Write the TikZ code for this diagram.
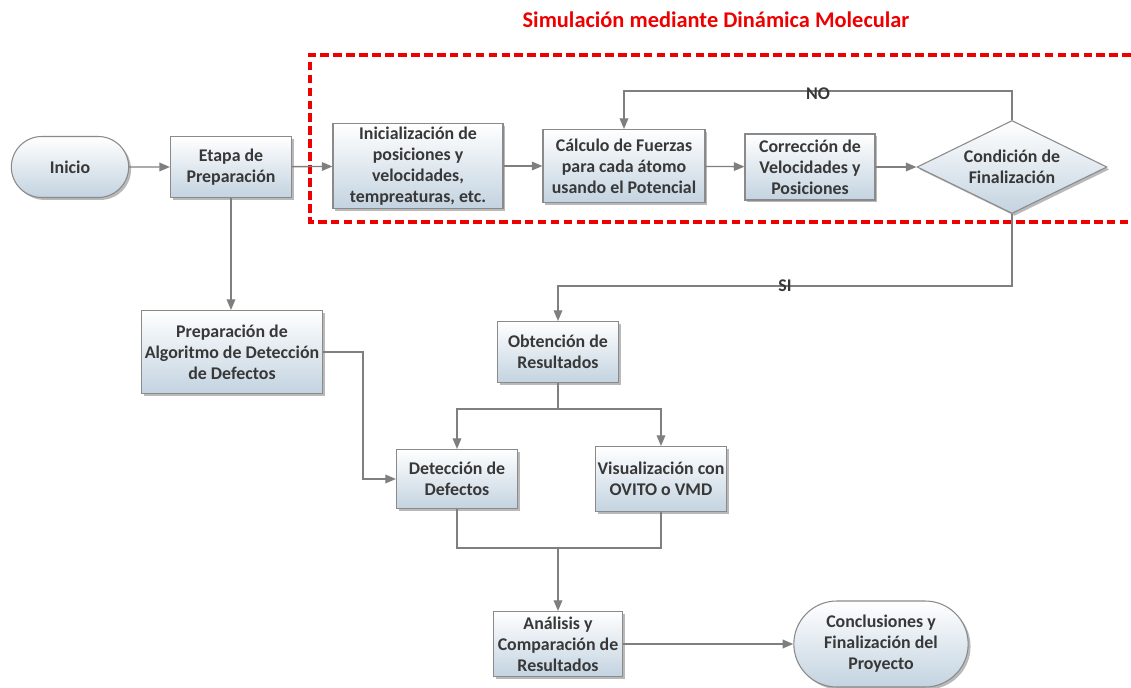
\documentclass[tikz,border=0pt]{standalone}
\usepackage{fontspec}
\setmainfont{Carlito}
\usepackage{xcolor}
\usetikzlibrary{shapes.geometric,shapes.misc,shadows,arrows.meta}

\definecolor{lineagris}{HTML}{7F7F7F}
\definecolor{bordegris}{HTML}{8A8A8A}
\definecolor{azulcaja}{HTML}{C3D3E0}
\definecolor{textogris}{HTML}{383838}
\definecolor{rojosim}{HTML}{EE0000}

\tikzset{
  caja/.style={draw=bordegris, line width=0.8pt, top color=white, bottom color=azulcaja,
    drop shadow={shadow xshift=1.8pt, shadow yshift=-1.8pt, fill=black!50, opacity=.55},
    font=\bfseries\fontsize{13.4}{15.8}\selectfont, text=textogris, align=center, inner sep=1pt},
  terminal/.style={caja, rounded rectangle},
  decision/.style={caja, diamond, aspect=2, inner sep=0pt},
  flecha/.style={draw=lineagris, line width=1pt, -{Triangle[length=8pt,width=6.5pt]}},
  linea/.style={draw=lineagris, line width=1pt},
  etiqueta/.style={font=\bfseries\fontsize{13.4}{15.8}\selectfont, text=textogris, inner sep=0pt}
}

\begin{document}
\begin{tikzpicture}[x=0.75pt, y=-0.75pt]
        \useasboundingbox (0,0) rectangle (1131,688);

        \node[font=\bfseries\fontsize{16.8}{19}\selectfont, text=rojosim] (titulo) at (716,20) {Simulación mediante Dinámica Molecular};
        \draw[rojosim, line width=2.3pt, dash pattern=on 6.5pt off 3.2pt] (1131,55) -- (310,55) -- (310,222) -- (1131,222);

        \node[terminal, minimum width=90pt, minimum height=45.75pt] (inicio) at (70,167) {Inicio};
        \node[caja, minimum width=90.75pt, minimum height=45.75pt] (etapa) at (231,167) {Etapa de\\Preparación};
        \node[caja, minimum width=127.5pt, minimum height=63.75pt] (inic) at (418,166) {Inicialización de\\posiciones y\\velocidades,\\tempreaturas, etc.};
        \node[caja, minimum width=121.5pt, minimum height=54.75pt] (calc) at (624,166) {Cálculo de Fuerzas\\para cada átomo\\usando el Potencial};
        \node[caja, minimum width=97.5pt, minimum height=49.5pt] (corr) at (810,167) {Corrección de\\Velocidades y\\Posiciones};
        \node[decision, minimum width=142.5pt, minimum height=69.75pt] (cond) at (1012,167) {Condición de\\Finalización};

        \node[caja, minimum width=135.75pt, minimum height=62.25pt] (prep) at (232,352) {Preparación de\\Algoritmo de Detección\\de Defectos};
        \node[caja, minimum width=90.75pt, minimum height=45.75pt] (obt) at (558,352) {Obtención de\\Resultados};
        \node[caja, minimum width=90.75pt, minimum height=44.25pt] (det) at (457,479) {Detección de\\Defectos};
        \node[caja, minimum width=98.25pt, minimum height=48.75pt] (vis) at (661,479) {Visualización con\\OVITO o VMD};
        \node[caja, minimum width=96.75pt, minimum height=48.75pt] (ana) at (558,644) {Análisis y\\Comparación de\\Resultados};
        \node[terminal, minimum width=132.75pt, minimum height=64.5pt] (concl) at (881,644) {Conclusiones y\\Finalización del\\Proyecto};

        \coordinate (bifur) at (558,409);
        \coordinate (union) at (558,548);

        \draw[flecha] (inicio) -- (etapa);
        \draw[flecha] (etapa) -- (inic);
        \draw[flecha] (inic) -- (calc);
        \draw[flecha] (calc) -- (corr);
        \draw[flecha] (corr) -- (cond.west);
        \draw[flecha] (cond.north) -- ++(0,-29) -| node[pos=0.25, etiqueta, yshift=-2pt] {NO} (calc.north);
        \draw[flecha] (cond.south) -- ++(0,72) -| node[pos=0.25, etiqueta] {SI} (obt.north);
        \draw[flecha] (etapa.south) -- (etapa.south |- prep.north);
        \draw[flecha] (prep.east) -- ++(40,0) |- (det.west);
        \draw[linea] (obt.south) -- (bifur);
        \draw[flecha] (bifur) -| (det.north);
        \draw[flecha] (bifur) -| (vis.north);
        \draw[linea] (det.south) |- (union);
        \draw[linea] (vis.south) |- (union);
        \draw[flecha] (union) -- (ana.north);
        \draw[flecha] (ana) -- (concl);
    \end{tikzpicture}
\end{document}
